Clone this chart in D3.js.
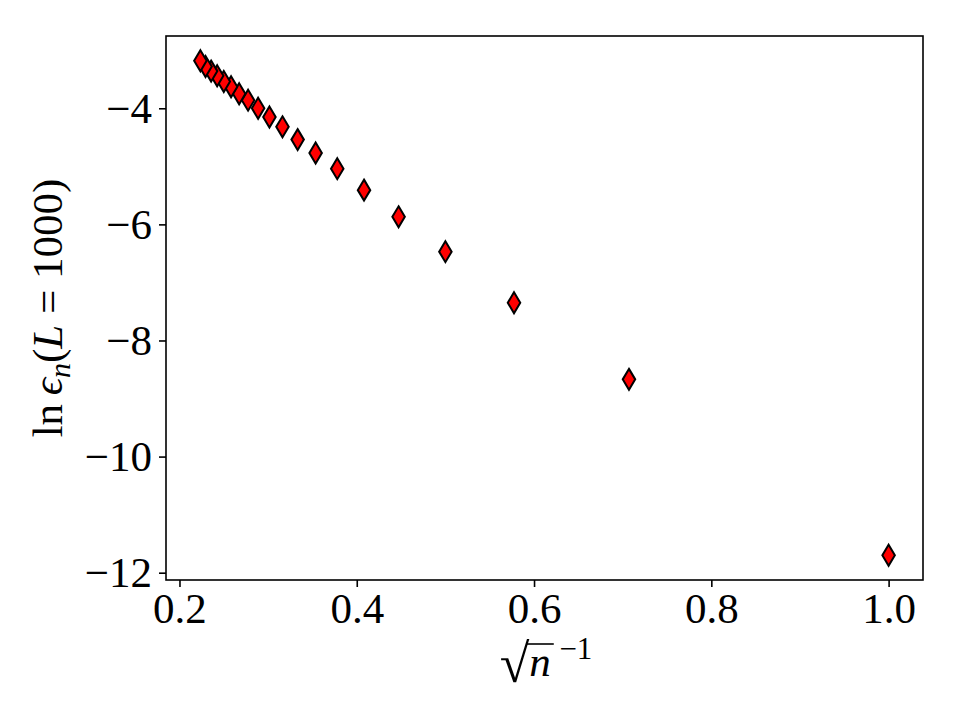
<!DOCTYPE html>
<html>
<head>
<meta charset="utf-8">
<title>ln eps_n vs 1/sqrt(n)</title>
<script src="https://d3js.org/d3.v7.min.js"></script>
<style>
    body { margin: 0; background: #fff; }
    svg { display: block; }
    text { font-family: "Liberation Serif", serif; fill: #000; }
</style>
</head>
<body>
<svg width="960" height="720"></svg>
<script>
    // n = 1 .. 20, x = 1/sqrt(n)
    const invSqrtN = [1.0, 0.7071, 0.5774, 0.5, 0.4472, 0.4082, 0.3780, 0.3536, 0.3333, 0.3162,
                      0.3015, 0.2887, 0.2774, 0.2673, 0.2582, 0.25, 0.2425, 0.2357, 0.2294, 0.2236];
    const lnEps = [-11.70, -8.67, -7.35, -6.47, -5.87, -5.41, -5.04, -4.77, -4.54, -4.32,
                   -4.15, -4.00, -3.86, -3.75, -3.63, -3.54, -3.44, -3.36, -3.28, -3.18];
    const xTicks = [0.2, 0.4, 0.6, 0.8, 1.0];
    const yTicks = [-12, -10, -8, -6, -4];

    const svg = d3.select("svg");
    const pLeft = 166, pRight = 923, pTop = 36, pBottom = 580;
    const fs = 43;

    const x = d3.scaleLinear().domain([0.1848, 1.0388]).range([pLeft, pRight]);
    const y = d3.scaleLinear().domain([-12.126, -2.755]).range([pBottom, pTop]);

    // axes
    const xAxis = svg.append("g")
        .attr("transform", `translate(0,${pBottom})`)
        .call(d3.axisBottom(x).tickValues(xTicks).tickFormat(d3.format(".1f"))
            .tickSize(7).tickSizeOuter(0).tickPadding(5));
    const yAxis = svg.append("g")
        .attr("transform", `translate(${pLeft},0)`)
        .call(d3.axisLeft(y).tickValues(yTicks).tickFormat(d => "\u2212" + Math.abs(d))
            .tickSize(7).tickSizeOuter(0).tickPadding(7));

    [xAxis, yAxis].forEach(g => {
        g.select(".domain").remove();
        g.selectAll(".tick line").attr("stroke", "#000").attr("stroke-width", 1.6);
        g.selectAll(".tick text").attr("font-size", fs)
            .attr("font-family", "Liberation Serif").attr("fill", "#000");
    });
    yAxis.selectAll(".tick text").attr("dy", "0.33em");

    // frame
    svg.append("rect")
        .attr("x", pLeft).attr("y", pTop)
        .attr("width", pRight - pLeft).attr("height", pBottom - pTop)
        .attr("fill", "none").attr("stroke", "#000").attr("stroke-width", 1.6);

    // thin diamond markers
    const h = 21, w = 12.5;
    const diamond = `M0,${-h / 2}L${w / 2},0L0,${h / 2}L${-w / 2},0Z`;
    svg.append("g").selectAll("path")
        .data(invSqrtN.map((v, i) => [v, lnEps[i]]))
        .enter()
        .append("path")
        .attr("d", diamond)
        .attr("transform", d => `translate(${x(d[0])},${y(d[1])})`)
        .attr("fill", "#ff0000")
        .attr("stroke", "#000")
        .attr("stroke-width", 2)
        .attr("stroke-linejoin", "miter");

    // x label: sqrt(n)^-1
    const xl = svg.append("text")
        .attr("x", 546).attr("y", 676)
        .attr("text-anchor", "middle")
        .attr("font-size", fs);
    xl.append("tspan").attr("font-size", 54).attr("dy", 6).text("\u221A");
    const nSpan = xl.append("tspan").attr("font-style", "italic").attr("dy", -6).text("n");
    xl.append("tspan").text("\u2009");
    xl.append("tspan").attr("font-size", 31).attr("dy", -17).text("\u22121");
    const nb = nSpan.node().getBBox();
    svg.append("line")
        .attr("x1", nb.x - 3).attr("x2", nb.x + nb.width + 3)
        .attr("y1", 644).attr("y2", 644)
        .attr("stroke", "#000").attr("stroke-width", 1.6);

    // y label: ln eps_n(L = 1000)
    const yl = svg.append("text")
        .attr("transform", `translate(62,${(pTop + pBottom) / 2}) rotate(-90)`)
        .attr("text-anchor", "middle")
        .attr("font-size", fs);
    yl.append("tspan").text("ln\u2009");
    yl.append("tspan").attr("font-style", "italic").text("\u03F5");
    yl.append("tspan").attr("font-style", "italic").attr("font-size", 30).attr("dy", 8).text("n");
    yl.append("tspan").attr("dy", -8).text("(");
    yl.append("tspan").attr("font-style", "italic").text("L");
    yl.append("tspan").text(" = 1000)");
</script>
</body>
</html>
